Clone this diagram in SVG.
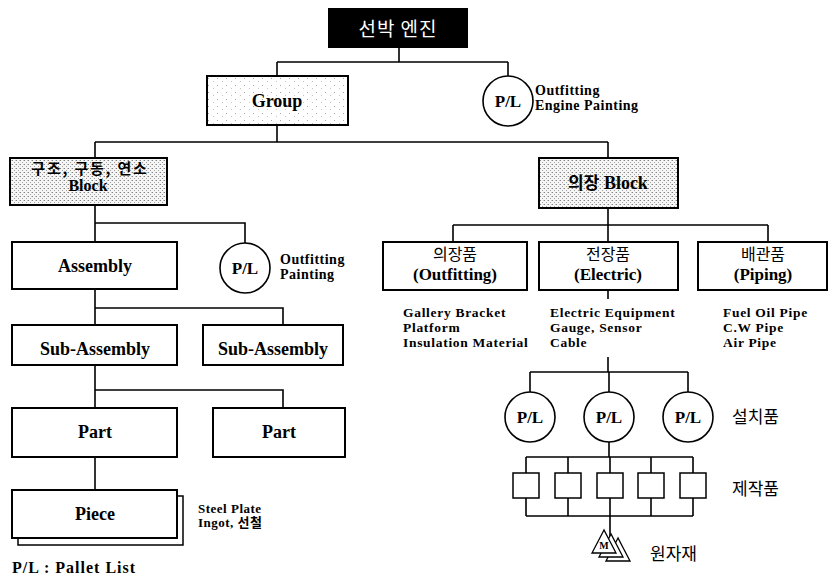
<svg xmlns="http://www.w3.org/2000/svg" width="832" height="580" viewBox="0 0 832 580">
  <defs>
    <!-- light stipple for the Group box -->
    <pattern id="stippleLight" width="9" height="7" patternUnits="userSpaceOnUse">
      <rect width="9" height="7" fill="#ffffff"/>
      <rect x="1" y="1" width="1" height="1" fill="#a8a8a8"/>
      <rect x="6" y="4" width="1" height="1" fill="#c4c4c4"/>
    </pattern>
    <!-- denser stipple for the block boxes -->
    <pattern id="stippleDense" width="4" height="4" patternUnits="userSpaceOnUse">
      <rect width="4" height="4" fill="#f6f6f6"/>
      <rect x="0" y="0" width="1" height="1" fill="#808080"/>
      <rect x="2" y="2" width="1" height="1" fill="#a0a0a0"/>
      <rect x="3" y="0" width="1" height="1" fill="#c8c8c8"/>
    </pattern>
  </defs>
  <style>
    .box { fill: #ffffff; stroke: #000; stroke-width: 2; }
    .light { fill: url(#stippleLight); stroke: #000; stroke-width: 2; }
    .dense { fill: url(#stippleDense); stroke: #000; stroke-width: 2; }
    .pl { fill: #ffffff; stroke: #000; stroke-width: 1.6; }
    .small { fill: #ffffff; stroke: #000; stroke-width: 1.5; }
    .tri { fill: #ffffff; stroke: #000; stroke-width: 1.3; stroke-linejoin: miter; }
    .edge { fill: none; stroke: #000; stroke-width: 1.6; }
    .lbl { font-family: "Liberation Serif", "Times New Roman", serif; font-weight: bold; font-size: 18px; fill: #000; text-anchor: middle; }
    .note { font-family: "Liberation Serif", "Times New Roman", serif; font-weight: bold; font-size: 14px; letter-spacing: 0.5px; fill: #000; }
    .item { font-family: "Liberation Serif", "Times New Roman", serif; font-weight: bold; font-size: 13.5px; letter-spacing: 0.7px; fill: #000; }
    .ko { font-family: "Noto Sans CJK KR", "Noto Sans", sans-serif; font-size: 17px; fill: #000; }
    .mix { font-family: "Liberation Serif", "Noto Sans CJK KR", serif; font-weight: bold; fill: #000; }
  </style>

  <!-- connectors -->
  <g id="connectors" class="edge">
    <path d="M399 48 V62 M277 62 H508 M277 62 V76 M508 62 V76"/>
    <path d="M277 125 V142 M95 142 H608 M95 142 V158 M608 142 V158"/>
    <path d="M95 205 V242 M95 223 H245 V243"/>
    <path d="M95 289 V325 M95 308 H283 V325"/>
    <path d="M95 365 V408 M95 390 H283 V408"/>
    <path d="M95 457 V490"/>
    <path d="M608 208 V242 M453 225 H768 M453 225 V242 M768 225 V242"/>
    <path d="M608 290 V299 M608 357 V372 M530 372 H688 M530 372 V392 M609 372 V392 M688 372 V392"/>
    <path d="M609 442 V457 M526 457 H693 M526 457 V473 M568 457 V473 M610 457 V473 M651 457 V473 M693 457 V473"/>
    <path d="M526 498 V516 M568 498 V516 M610 498 V516 M651 498 V516 M693 498 V516 M526 516 H693 M610 516 V537"/>
  </g>

  <!-- top node -->
  <g id="engine">
    <rect x="328" y="8" width="140" height="40" fill="#000"/>
    <text x="398" y="36" class="ko" style="font-size:19px;letter-spacing:1px;fill:#fff" text-anchor="middle">선박 엔진</text>
  </g>

  <g id="group">
    <rect x="207" y="76" width="141" height="49" class="light"/>
    <text x="277" y="107" class="lbl">Group</text>
  </g>

  <g id="pl-engine">
    <circle cx="508" cy="101" r="25" class="pl"/>
    <text x="508" y="107" class="lbl" style="font-size:17px">P/L</text>
    <text x="535" y="95" class="note">Outfitting</text>
    <text x="535" y="110" class="note">Engine Painting</text>
  </g>

  <!-- hull structure branch -->
  <g id="structure-block">
    <rect x="10" y="158" width="157" height="47" class="dense"/>
    <text x="90" y="174" class="ko" style="font-weight:bold;font-size:15px;letter-spacing:1.8px" text-anchor="middle">구조, 구동, 연소</text>
    <text x="88" y="191" class="lbl" style="font-size:16px">Block</text>
  </g>

  <g id="assembly">
    <rect x="12" y="242" width="165" height="47" class="box"/>
    <text x="95" y="272" class="lbl">Assembly</text>
  </g>

  <g id="pl-assembly">
    <circle cx="245" cy="268" r="25" class="pl"/>
    <text x="245" y="274" class="lbl" style="font-size:17px">P/L</text>
    <text x="280" y="264" class="note">Outfitting</text>
    <text x="280" y="279" class="note">Painting</text>
  </g>

  <g id="sub-assembly-1">
    <rect x="12" y="325" width="165" height="40" class="box"/>
    <text x="95" y="355" class="lbl">Sub-Assembly</text>
  </g>

  <g id="sub-assembly-2">
    <rect x="203" y="325" width="140" height="40" class="box"/>
    <text x="273" y="355" class="lbl">Sub-Assembly</text>
  </g>

  <g id="part-1">
    <rect x="12" y="408" width="165" height="49" class="box"/>
    <text x="95" y="438" class="lbl">Part</text>
  </g>

  <g id="part-2">
    <rect x="213" y="408" width="132" height="49" class="box"/>
    <text x="279" y="438" class="lbl">Part</text>
  </g>

  <g id="piece">
    <rect x="18" y="496" width="165" height="49" class="box" style="stroke-width:1.5"/>
    <rect x="12" y="490" width="165" height="48" class="box"/>
    <text x="95" y="520" class="lbl">Piece</text>
    <text x="198" y="513" class="note" style="font-size:13px">Steel Plate</text>
    <text x="198" y="527" class="mix" style="font-size:13px;letter-spacing:0.5px">Ingot, 선철</text>
  </g>

  <!-- outfitting branch -->
  <g id="outfit-block">
    <rect x="539" y="158" width="139" height="50" class="dense"/>
    <text x="608" y="189" class="mix" style="font-size:18px" text-anchor="middle"><tspan font-family="Noto Sans CJK KR, sans-serif" font-size="17">의장</tspan> Block</text>
  </g>

  <g id="outfitting">
    <rect x="383" y="242" width="144" height="48" class="box"/>
    <text x="455" y="260" class="ko" style="font-size:16px" text-anchor="middle">의장품</text>
    <text x="455" y="280" class="lbl" style="font-size:17px">(Outfitting)</text>
    <text x="403" y="317" class="item">Gallery Bracket</text>
    <text x="403" y="332" class="item">Platform</text>
    <text x="403" y="347" class="item">Insulation Material</text>
  </g>

  <g id="electric">
    <rect x="539" y="242" width="139" height="48" class="box"/>
    <text x="608" y="260" class="ko" style="font-size:16px" text-anchor="middle">전장품</text>
    <text x="608" y="280" class="lbl" style="font-size:17px">(Electric)</text>
    <text x="550" y="317" class="item">Electric Equipment</text>
    <text x="550" y="332" class="item">Gauge, Sensor</text>
    <text x="550" y="347" class="item">Cable</text>
  </g>

  <g id="piping">
    <rect x="698" y="242" width="129" height="48" class="box"/>
    <text x="763" y="260" class="ko" style="font-size:16px" text-anchor="middle">배관품</text>
    <text x="763" y="280" class="lbl" style="font-size:17px">(Piping)</text>
    <text x="723" y="317" class="item">Fuel Oil Pipe</text>
    <text x="723" y="332" class="item">C.W Pipe</text>
    <text x="723" y="347" class="item">Air Pipe</text>
  </g>

  <g id="installed-pl">
    <circle cx="530" cy="417" r="25" class="pl"/>
    <circle cx="609" cy="417" r="25" class="pl"/>
    <circle cx="688" cy="417" r="25" class="pl"/>
    <text x="530" y="423" class="lbl" style="font-size:17px">P/L</text>
    <text x="609" y="423" class="lbl" style="font-size:17px">P/L</text>
    <text x="688" y="423" class="lbl" style="font-size:17px">P/L</text>
    <text x="732" y="423" class="ko">설치품</text>
  </g>

  <g id="fabricated">
    <rect x="513" y="473" width="26" height="25" class="small"/>
    <rect x="555" y="473" width="26" height="25" class="small"/>
    <rect x="597" y="473" width="26" height="25" class="small"/>
    <rect x="638" y="473" width="26" height="25" class="small"/>
    <rect x="680" y="473" width="26" height="25" class="small"/>
    <text x="732" y="495" class="ko">제작품</text>
  </g>

  <g id="raw-material">
    <polygon points="618,538 606,561 630,561" class="tri"/>
    <polygon points="611,534 599,557 623,557" class="tri"/>
    <polygon points="604,530 592,553 616,553" class="tri"/>
    <text x="604" y="549" font-family="Liberation Serif, serif" font-weight="bold" font-size="10" text-anchor="middle">M</text>
    <text x="650" y="560" class="ko">원자재</text>
  </g>

  <!-- legend -->
  <text x="12" y="573" class="note" style="font-size:16px;letter-spacing:1px">P/L : Pallet List</text>
</svg>
